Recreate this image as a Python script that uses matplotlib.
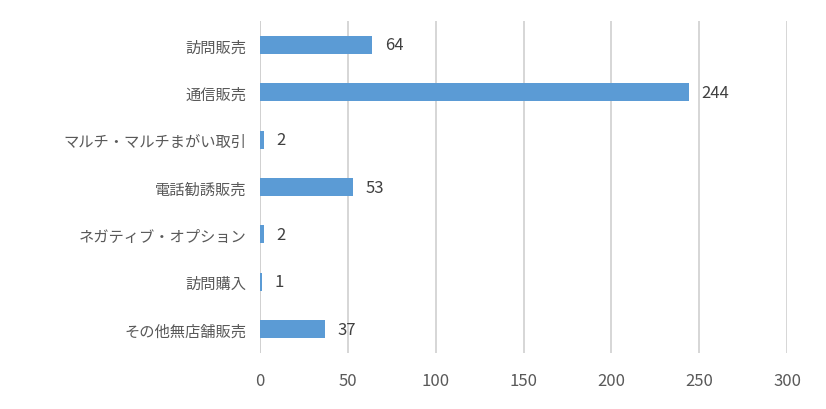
import matplotlib
matplotlib.use("Agg")
import matplotlib.pyplot as plt

categories = ["訪問販売", "通信販売", "マルチ・マルチまがい取引", "電話勧誘販売",
              "ネガティブ・オプション", "訪問購入", "その他無店舗販売"]
values = [64, 244, 2, 53, 2, 1, 37]
xticks = [0, 50, 100, 150, 200, 250, 300]

plt.rcParams['font.family'] = ['Noto Sans CJK JP', 'DejaVu Sans']
fig = plt.figure(figsize=(8.26, 4.10), dpi=100)
ax = fig.add_axes([0.3148, 0.1373, 0.638, 0.8083])
y = list(range(len(categories)))
ax.barh(y, values, height=0.38, color="#5B9BD5", zorder=3)
for yi, v in zip(y, values):
    ax.text(v + 7, yi, str(v), va="center", ha="left", fontsize=12, color="#404040")
ax.set_yticks(y)
ax.set_yticklabels(categories, fontsize=11, color="#595959")
ax.set_ylim(len(categories) - 0.5, -0.5)
ax.set_xlim(0, 300)
ax.set_xticks(xticks)
ax.set_xticklabels([str(t) for t in xticks], fontsize=12, color="#595959")
ax.tick_params(length=0, pad=10)
ax.tick_params(axis='x', pad=14)
ax.grid(axis='x', color="#D0D0D0", linewidth=1.2, zorder=0)
for s in ax.spines.values():
    s.set_visible(False)
ax.axvline(0, color="#D0D0D0", linewidth=1.2, zorder=0)
fig.savefig("out.png", dpi=100)
